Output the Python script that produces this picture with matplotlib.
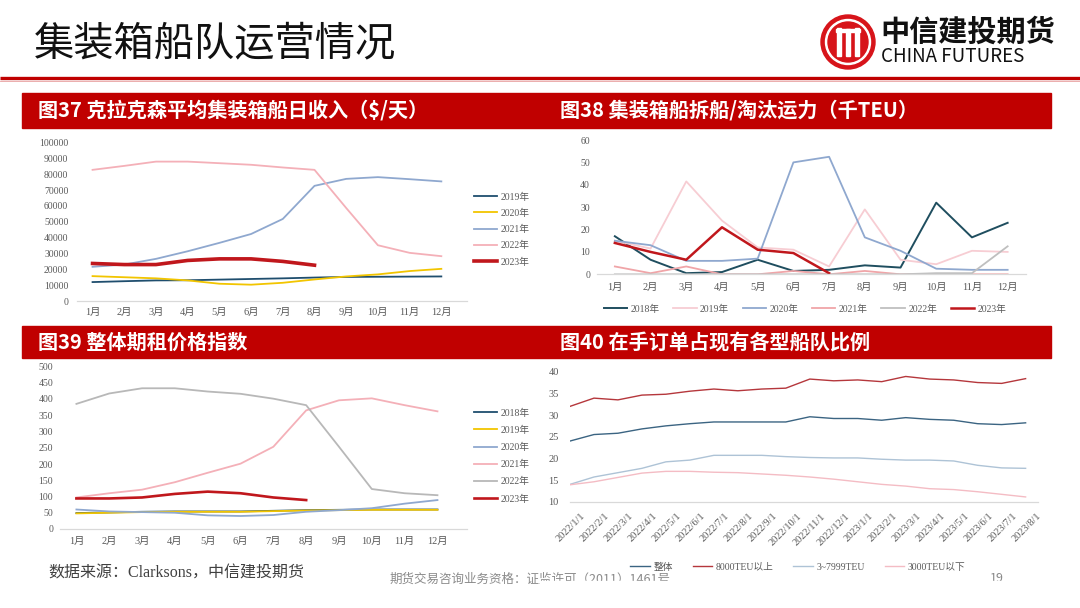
import numpy as np
import matplotlib
matplotlib.use("Agg")
import matplotlib.pyplot as plt
from matplotlib.patches import Rectangle, Circle

plt.rcParams['font.family'] = ['Noto Sans CJK SC', 'DejaVu Sans']
TICKFONT = ['Liberation Serif', 'Noto Sans CJK SC']

# ----------- data -----------
months = ['1月', '2月', '3月', '4月', '5月', '6月', '7月', '8月', '9月', '10月', '11月', '12月']

# 图37 克拉克森平均集装箱船日收入($/天)
earn_years = ['2019年', '2020年', '2021年', '2022年', '2023年']
earn_2019 = [11950, 12500, 13000, 13100, 13500, 13900, 14300, 14800, 15200, 15300, 15400, 15500]
earn_2020 = [15700, 15000, 14300, 13000, 10900, 10300, 11500, 13600, 15500, 16800, 18900, 20300]
earn_2021 = [21600, 23000, 26600, 31400, 36700, 42300, 51800, 72700, 77100, 78200, 76900, 75500]
earn_2022 = [82800, 85300, 88000, 88000, 87000, 86000, 84300, 82800, 58700, 35200, 30400, 28300]
earn_2023 = [23700, 23000, 23000, 25600, 26600, 26600, 25000, 22600]

# 图38 集装箱船拆船/淘汰运力(千TEU)
scrap_years = ['2018年', '2019年', '2020年', '2021年', '2022年', '2023年']
scrap_2018 = [17, 6.5, 0.5, 1, 6.5, 1.5, 2, 4, 3, 32, 16.5, 23]
scrap_2019 = [15, 11.5, 41.5, 24, 12, 11, 3.5, 29, 6.5, 4.5, 10.5, 10]
scrap_2020 = [15, 13, 6, 6, 7, 50, 52.5, 16.5, 10.5, 2.5, 2, 2]
scrap_2021 = [3.5, 0.5, 3.5, 0, 0, 1.5, 0, 1.5, 0, 0, 0, 0]
scrap_2022 = [0, 0, 0, 0, 0, 0, 0, 0, 0, 0.5, 0.5, 12.5]
scrap_2023 = [14, 10, 6.5, 21, 11, 9.5, 0.5]

# 图39 整体期租价格指数
hire_years = ['2018年', '2019年', '2020年', '2021年', '2022年', '2023年']
hire_2018 = [49, 51, 53, 54, 54, 54, 56, 58, 59, 60, 60, 60]
hire_2019 = [48, 50, 52, 53, 53, 53, 55, 57, 58, 59, 59, 59]
hire_2020 = [60, 54, 52, 50, 42, 40, 43, 53, 58, 64, 78, 89]
hire_2021 = [97, 110, 121, 144, 173, 201, 253, 365, 396, 402, 381, 362]
hire_2022 = [385, 417, 433, 433, 423, 416, 401, 381, 253, 123, 110, 104]
hire_2023 = [94, 94, 97, 108, 115, 110, 97, 89]

# 图40 在手订单占现有各型船队比例
ob_dates = ['2022/1/1', '2022/2/1', '2022/3/1', '2022/4/1', '2022/5/1', '2022/6/1', '2022/7/1',
            '2022/8/1', '2022/9/1', '2022/10/1', '2022/11/1', '2022/12/1', '2023/1/1', '2023/2/1',
            '2023/3/1', '2023/4/1', '2023/5/1', '2023/6/1', '2023/7/1', '2023/8/1']
ob_names = ['整体', '8000TEU以上', '3~7999TEU', '3000TEU以下']
ob_total = [24.0, 25.5, 25.8, 26.8, 27.5, 28.0, 28.4, 28.4, 28.4, 28.4, 29.6, 29.2, 29.2, 28.8,
            29.4, 29.0, 28.8, 28.0, 27.8, 28.2]
ob_8000 = [32.0, 33.9, 33.5, 34.6, 34.8, 35.5, 36.0, 35.6, 36.0, 36.2, 38.3, 37.9, 38.1, 37.7,
           38.9, 38.3, 38.1, 37.5, 37.3, 38.4]
ob_3_7999 = [14.0, 15.7, 16.7, 17.7, 19.2, 19.6, 20.7, 20.7, 20.7, 20.4, 20.2, 20.1, 20.1, 19.8,
             19.6, 19.6, 19.4, 18.4, 17.8, 17.7]
ob_3000 = [13.9, 14.6, 15.6, 16.6, 17.0, 17.0, 16.8, 16.7, 16.4, 16.1, 15.7, 15.2, 14.6, 14.0,
           13.6, 13.0, 12.8, 12.3, 11.7, 11.1]

RED = '#c00000'
W, H = 1080, 608
fig = plt.figure(figsize=(10.8, 6.08), dpi=100)

# ----------- background decorations (pixel coords) -----------
bg = fig.add_axes([0, 0, 1, 1])
bg.set_xlim(0, W)
bg.set_ylim(H, 0)
bg.axis('off')

bg.text(34, 44, '集装箱船队运营情况', fontsize=29, color='#111111', va='center', ha='left')
bg.plot([0, W], [78, 78], color=RED, lw=2.4, solid_capstyle='butt')
bg.plot([0, W], [80.5, 80.5], color='#e8a0a0', lw=0.6)

# logo
bg.add_patch(Circle((848, 42), 27, color='#d7141a'))
bg.add_patch(Circle((848, 42), 22.5, color='white'))
bg.add_patch(Circle((848, 42), 20, color='#d7141a'))
for dx in (-9, 9):
    bg.add_patch(Rectangle((848 + dx - 1.6, 28), 3.2, 28, color='white'))
bg.add_patch(Rectangle((836, 29), 24, 3.2, color='white'))
bg.add_patch(Rectangle((846.4, 29), 3.2, 27, color='white'))
bg.text(880, 32, '中信建投期货', fontsize=21, fontweight='bold', color='#111111', va='center', ha='left')
bg.text(881, 57, 'CHINA FUTURES', fontsize=13.5, color='#111111', va='center', ha='left')

# header bars
for y0, h, t1, t2 in [(93, 35, '图37 克拉克森平均集装箱船日收入（$/天）', '图38 集装箱船拆船/淘汰运力（千TEU）'),
                      (326, 32, '图39 整体期租价格指数', '图40 在手订单占现有各型船队比例')]:
    bg.add_patch(Rectangle((22, y0), 1029, h, color=RED))
    bg.text(38, y0 + h / 2, t1, fontsize=14.5, fontweight='bold', color='white', va='center', ha='left')
    bg.text(560, y0 + h / 2, t2, fontsize=14.5, fontweight='bold', color='white', va='center', ha='left')

# footer
bg.text(48, 574, '数据来源：Clarksons，中信建投期货', fontsize=11.5, color='#404040',
        va='center', ha='left', family=['Liberation Serif', 'Noto Sans CJK SC'])
bg.text(390, 579, '期货交易咨询业务资格：证监许可（2011）1461号', fontsize=9, color='#8a8a8a',
        va='center', ha='left')
bg.text(990, 579, '19', fontsize=9, color='#8a8a8a', va='center', ha='left')
bg.add_patch(Rectangle((540, 581), 520, 27, color='white', zorder=5))


def make_ax(x0, x1, ytop, ybot):
    ax = fig.add_axes([x0 / W, 1 - ybot / H, (x1 - x0) / W, (ybot - ytop) / H])
    ax.set_facecolor('none')
    for s in ['top', 'right', 'left']:
        ax.spines[s].set_visible(False)
    ax.spines['bottom'].set_color('#d9d9d9')
    ax.spines['bottom'].set_linewidth(0.9)
    ax.tick_params(length=0, labelsize=7, colors='#595959')
    return ax


def set_tick_font(ax):
    for lbl in ax.get_xticklabels() + ax.get_yticklabels():
        lbl.set_family(TICKFONT)


def style_legend(leg):
    for t in leg.get_texts():
        t.set_color('#595959')
        t.set_family(TICKFONT)


x12 = np.arange(12)

# ----------- 图37 -----------
ax1 = make_ax(76.7, 466.7, 142.6, 301)
ax1.plot(x12, earn_2019, color='#1f4e6e', lw=1.3, label=earn_years[0])
ax1.plot(x12, earn_2020, color='#f2c500', lw=1.3, label=earn_years[1])
ax1.plot(x12, earn_2021, color='#8fa8cf', lw=1.3, label=earn_years[2])
ax1.plot(x12, earn_2022, color='#f4b0b8', lw=1.3, label=earn_years[3])
ax1.plot(x12[:len(earn_2023)], earn_2023, color='#c0171c', lw=2.6, label=earn_years[4])
ax1.set_xlim(-0.5, 11.8)
ax1.set_ylim(0, 100000)
ax1.set_yticks(np.arange(0, 100001, 10000))
ax1.set_xticks(x12, months)
ax1.tick_params(axis='y', pad=6)
ax1.tick_params(axis='x', pad=5, labelsize=7.5)
set_tick_font(ax1)
leg1 = ax1.legend(loc='center left', bbox_to_anchor=(474 / W, 1 - 229.5 / H), bbox_transform=fig.transFigure,
                  frameon=False, fontsize=7, handlelength=2.4, handletextpad=0.3, labelspacing=0.72,
                  borderpad=0, borderaxespad=0)
style_legend(leg1)

# ----------- 图38 -----------
ax2 = make_ax(597, 1025.5, 140, 274.3)
ax2.plot(x12, scrap_2018, color='#1f4e5f', lw=1.4, label=scrap_years[0])
ax2.plot(x12, scrap_2019, color='#f7cdd3', lw=1.3, label=scrap_years[1])
ax2.plot(x12, scrap_2020, color='#8fa8cf', lw=1.3, label=scrap_years[2])
ax2.plot(x12, scrap_2021, color='#f0a5a8', lw=1.3, label=scrap_years[3])
ax2.plot(x12, scrap_2022, color='#bfbfbf', lw=1.3, label=scrap_years[4])
ax2.plot(x12[:len(scrap_2023)], scrap_2023, color='#c0171c', lw=1.8, label=scrap_years[5])
ax2.set_xlim(-0.5, 11.5)
ax2.set_ylim(0, 60)
ax2.set_yticks(np.arange(0, 61, 10))
ax2.set_xticks(x12, months)
ax2.tick_params(axis='y', pad=5)
ax2.tick_params(axis='x', pad=6, labelsize=7.5)
set_tick_font(ax2)
leg2 = ax2.legend(loc='center', bbox_to_anchor=(805 / W, 1 - 309 / H), bbox_transform=fig.transFigure,
                  frameon=False, fontsize=7, ncol=6, handlelength=2.4, handletextpad=0.35,
                  columnspacing=1.4, borderpad=0, borderaxespad=0)
style_legend(leg2)

# ----------- 图39 -----------
ax3 = make_ax(60, 467, 366.5, 529)
ax3.plot(x12, hire_2018, color='#1f4e6e', lw=1.3, label=hire_years[0])
ax3.plot(x12, hire_2019, color='#f2c500', lw=1.3, label=hire_years[1])
ax3.plot(x12, hire_2020, color='#8fa8cf', lw=1.3, label=hire_years[2])
ax3.plot(x12, hire_2021, color='#f4b0b8', lw=1.3, label=hire_years[3])
ax3.plot(x12, hire_2022, color='#b8b8b8', lw=1.3, label=hire_years[4])
ax3.plot(x12[:len(hire_2023)], hire_2023, color='#c0171c', lw=1.9, label=hire_years[5])
ax3.set_xlim(-0.5, 11.9)
ax3.set_ylim(0, 500)
ax3.set_yticks(np.arange(0, 501, 50))
ax3.set_xticks(x12, months)
ax3.tick_params(axis='y', pad=5)
ax3.tick_params(axis='x', pad=5.5, labelsize=7.5)
set_tick_font(ax3)
leg3 = ax3.legend(loc='center left', bbox_to_anchor=(474 / W, 1 - 456 / H), bbox_transform=fig.transFigure,
                  frameon=False, fontsize=7, handlelength=2.4, handletextpad=0.3, labelspacing=0.82,
                  borderpad=0, borderaxespad=0)
style_legend(leg3)

# ----------- 图40 -----------
x20 = np.arange(len(ob_dates))
ax4 = make_ax(570, 1037.6, 371.7, 501.7)
ax4.plot(x20, ob_total, color='#3b6482', lw=1.0, label=ob_names[0])
ax4.plot(x20, ob_8000, color='#b5373c', lw=1.0, label=ob_names[1])
ax4.plot(x20, ob_3_7999, color='#aec3d6', lw=1.0, label=ob_names[2])
ax4.plot(x20, ob_3000, color='#f4bcc4', lw=1.0, label=ob_names[3])
ax4.set_xlim(0, 19.5)
ax4.set_ylim(10, 40)
ax4.set_yticks(np.arange(10, 41, 5))
ax4.set_xticks(x20 + 0.45, ob_dates, rotation=45, ha='right', va='top', rotation_mode='anchor')
ax4.tick_params(axis='y', pad=8, labelsize=7.5)
ax4.tick_params(axis='x', pad=7, labelsize=7.5)
set_tick_font(ax4)
leg4 = ax4.legend(loc='center', bbox_to_anchor=(798 / W, 1 - 567 / H), bbox_transform=fig.transFigure,
                  frameon=False, fontsize=7, ncol=4, handlelength=2.0, handletextpad=0.4,
                  columnspacing=2.0, borderpad=0, borderaxespad=0)
style_legend(leg4)

fig.savefig('out.png', dpi=100, facecolor='white')
